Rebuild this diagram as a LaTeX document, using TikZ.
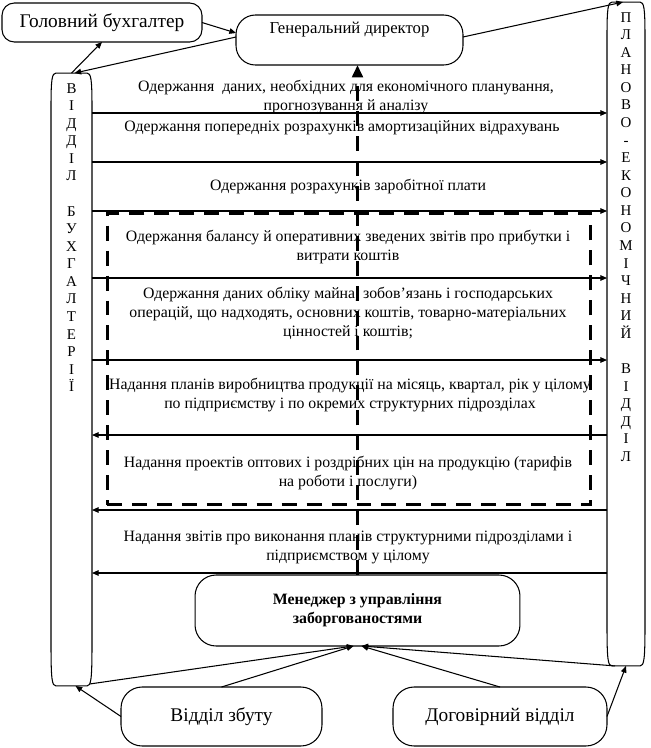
\documentclass[tikz,border=0pt]{standalone}
\usepackage{fontspec}
\setmainfont{Liberation Serif}
\usetikzlibrary{calc, positioning, arrows.meta}

\tikzset{
  box/.style={draw, line width=0.6pt, rounded corners=9pt, inner sep=0pt, outer sep=0pt, align=center},
  txt/.style={font=\fontsize{9}{10.8}\selectfont, align=center, inner sep=0pt},
  column/.style={inner sep=0pt, outer sep=0pt},
  letters/.style={align=center, inner sep=0pt, anchor=north, font=\fontsize{8.5}{10}\selectfont},
  flow/.style={line width=0.6pt, -{Triangle[length=3.8pt,width=3.2pt]}},
  bigdash/.style={line width=1.7pt, dash pattern=on 8.5pt off 5.7pt},
}

% outline of a tall column: corners bent like a scroll
\newcommand{\colframe}[3]{%
  \draw[line width=0.6pt]
    ($(#1.north west)+(0,#2)$) .. controls ($(#1.north west)+(0,6)$) and ($(#1.north west)+(1,0)$) .. ($(#1.north west)+(5,0)$)
    -- ($(#1.north east)+(-5,0)$) .. controls ($(#1.north east)+(-1,0)$) and ($(#1.north east)+(0,6)$) .. ($(#1.north east)+(0,#2)$)
    -- ($(#1.south east)+(0,-#3)$) .. controls ($(#1.south east)+(0,-6)$) and ($(#1.south east)+(-1,0)$) .. ($(#1.south east)+(-5,0)$)
    -- ($(#1.south west)+(5,0)$) .. controls ($(#1.south west)+(1,0)$) and ($(#1.south west)+(0,-6)$) .. ($(#1.south west)+(0,-#3)$)
    -- cycle;}

\begin{document}
\begin{tikzpicture}[x=0.02cm, y=-0.02cm]
  \useasboundingbox (0,0) rectangle (650,748);

  % --- top ---
  \node[box, rounded corners=7pt, minimum width=4cm, minimum height=0.78cm,
        font=\fontsize{11}{13}\selectfont] (gb) at (102,22.5) {Головний бухгалтер};
  \node[box, rounded corners=11pt, minimum width=4.54cm, minimum height=1cm,
        font=\fontsize{9.5}{11}\selectfont] (gd) at (349.5,40) {Генеральний директор\\ \strut};

  % --- side columns ---
  \node[column, minimum width=0.82cm, minimum height=12.26cm] (vb) at (71.5,379.5) {};
  \colframe{vb}{34}{42}
  \node[letters] (vbl) at (71.5,83)
    {В\\І\\Д\\Д\\І\\Л\\[10pt]Б\\У\\Х\\Г\\А\\Л\\Т\\Е\\Р\\І\\Ї};

  \node[column, minimum width=0.76cm, minimum height=13.28cm] (pe) at (626,334) {};
  \colframe{pe}{34}{40}
  \node[letters] (pel) at (626,12)
    {П\\Л\\А\\Н\\О\\В\\О\\-\\Е\\К\\О\\Н\\О\\М\\І\\Ч\\Н\\И\\Й\\[10pt]В\\І\\Д\\Д\\І\\Л};

  % --- flows between the columns ---
  \node[txt] (plan) at (346,97) {Одержання \ даних, необхідних для економічного планування,\\прогнозування й аналізу};
  \node[txt] (amort) at (342,128) {Одержання попередніх розрахунків амортизаційних відрахувань};
  \node[txt] (wage) at (348,187) {Одержання розрахунків заробітної плати};
  \node[txt] (balance) at (348,247.5) {Одержання балансу й оперативних зведених звітів про прибутки і\\витрати коштів};
  \node[txt] (assets) at (348,313) {Одержання даних обліку майна, зобов'язань і господарських\\операцій, що надходять, основних коштів, товарно-матеріальних\\цінностей і коштів;};
  \node[txt] (prodplan) at (350,395.5) {Надання планів виробництва продукції на місяць, квартал, рік у цілому\\по підприємству і по окремих структурних підрозділах};
  \node[txt] (prices) at (348,473.5) {Надання проектів оптових і роздрібних цін на продукцію (тарифів\\на роботи і послуги)};
  \node[txt] (reports) at (348,547.5) {Надання звітів про виконання планів структурними підрозділами і\\підприємством у цілому};

  \foreach \y in {113,162,211,278,360}
    \draw[flow] (vb.east |- 0,\y) -- (pe.west |- 0,\y);
  \foreach \y in {435,510,573}
    \draw[flow] (pe.west |- 0,\y) -- (vb.east |- 0,\y);

  % group of dashed flows
  \node[draw, bigdash, minimum width=9.68cm, minimum height=5.84cm, inner sep=0pt] (grp) at (349,359) {};

  % --- bottom ---
  \node[box, rounded corners=12pt, minimum width=6.5cm, minimum height=1.42cm,
        font=\fontsize{9}{10.8}\selectfont\bfseries] (mgr) at (357.5,610.5) {Менеджер з управління\\заборгованостями};
  \node[box, rounded corners=12pt, minimum width=4.02cm, minimum height=1.18cm,
        font=\fontsize{11}{13}\selectfont] (vz) at (221.5,716.5) {Відділ збуту};
  \node[box, rounded corners=12pt, minimum width=4.28cm, minimum height=1.18cm,
        font=\fontsize{11}{13}\selectfont] (dv) at (500,716.5) {Договірний відділ};

  % --- connectors ---
  \draw[flow] (gb.east) -- ($(gd.west)+(0,-7)$);
  \draw[flow] ($(gd.west)+(0,-3)$) -- ($(vb.north)+(3,0)$);
  \draw[flow, {Triangle[length=3.8pt,width=3.2pt]}-] (gb.south) -- (vb.north);
  \draw[flow] ($(gd.east)+(0,-3)$) -- ($(pe.north)+(-3,0)$);
  \draw[bigdash, -{Triangle[length=7pt,width=6pt]}] (mgr.north) -- (mgr.north |- gd.south);

  \draw[flow] ($(vb.south east)+(-2,-2)$) -- ($(mgr.south)+(-4,0)$);
  \draw[flow] (vz.north) -- ($(mgr.south)+(-4,0)$);
  \draw[flow] (dv.north) -- ($(mgr.south)+(4,0)$);
  \draw[flow] ($(pe.south west)+(8,0)$) -- ($(mgr.south)+(4,0)$);
  \draw[flow] (vz.west) -- ($(vb.south)+(4,0)$);
  \draw[flow] (dv.east) -- (pe.south);
\end{tikzpicture}
\end{document}
